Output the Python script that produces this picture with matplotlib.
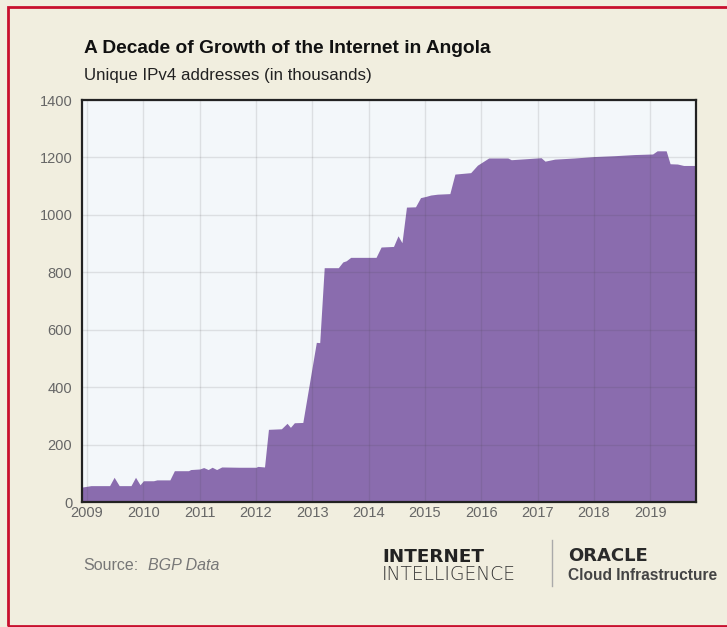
import matplotlib.pyplot as plt
from matplotlib.patches import Rectangle
from matplotlib.lines import Line2D

# Unique IPv4 addresses in Angola (thousands)
years = [2008.91, 2009.07, 2009.40, 2009.48, 2009.57, 2009.78, 2009.86, 2009.94, 2010.00, 2010.18,
         2010.24, 2010.47, 2010.55, 2010.80, 2010.84, 2011.00, 2011.07, 2011.15, 2011.22, 2011.30,
         2011.39, 2011.70, 2012.00, 2012.03, 2012.15, 2012.22, 2012.45, 2012.55, 2012.61, 2012.68,
         2012.83, 2013.07, 2013.13, 2013.21, 2013.46, 2013.54, 2013.60, 2013.68, 2014.13, 2014.22,
         2014.44, 2014.52, 2014.59, 2014.67, 2014.83, 2014.92, 2015.01, 2015.10, 2015.22, 2015.44,
         2015.53, 2015.81, 2015.93, 2016.13, 2016.47, 2016.53, 2017.06, 2017.13, 2017.30, 2017.65,
         2018.00, 2018.36, 2018.72, 2019.04, 2019.12, 2019.28, 2019.35, 2019.48, 2019.59, 2019.81]
addresses = [52, 57, 57, 86, 57, 57, 86, 60, 74, 74,
             77, 77, 109, 109, 113, 115, 120, 113, 121, 113,
             122, 121, 121, 124, 122, 253, 255, 274, 260, 276,
             277, 556, 555, 816, 816, 836, 840, 852, 852, 888,
             890, 927, 903, 1027, 1028, 1060, 1064, 1069, 1072, 1074,
             1142, 1147, 1173, 1198, 1198, 1192, 1199, 1187, 1194, 1198,
             1203, 1206, 1210, 1212, 1223, 1223, 1178, 1177, 1172, 1172]
year_ticks = list(range(2009, 2020))
value_ticks = list(range(0, 1401, 200))

title = "A Decade of Growth of the Internet in Angola"
subtitle = "Unique IPv4 addresses (in thousands)"

bg = "#f1eedf"
purple = "#8a6cae"
W, H = 727, 627

plt.rcParams['font.family'] = ['Liberation Sans', 'DejaVu Sans']

fig = plt.figure(figsize=(W / 100, H / 100), dpi=100, facecolor=bg)

def fx(px):
    return px / W

def fy(py):
    return 1 - py / H

# red frame around the card
fig.patches.append(Rectangle((fx(8), fy(626)), fx(740) - fx(8), fy(7) - fy(626),
                             transform=fig.transFigure, fill=False,
                             edgecolor="#c8102e", linewidth=2, zorder=10))

ax = fig.add_axes([fx(82), fy(502), fx(696) - fx(82), fy(100) - fy(502)])
ax.set_facecolor("#f3f7fa")
ax.fill_between(years, addresses, 0, color=purple, linewidth=0, zorder=1)
ax.set_xlim(2008.91, 2019.81)
ax.set_ylim(0, 1400)
ax.set_xticks(year_ticks)
ax.set_xticklabels([str(y) for y in year_ticks])
ax.set_yticks(value_ticks)
ax.grid(True, color="#444444", alpha=0.13, linewidth=1, zorder=2)
ax.set_axisbelow(False)
ax.tick_params(length=0, labelsize=10.5, labelcolor="#666666")
ax.tick_params(axis='y', pad=7)
ax.tick_params(axis='x', pad=3)
for s in ax.spines.values():
    s.set_color("#222222")
    s.set_linewidth(1.6)
    s.set_zorder(5)

fig.text(fx(84), fy(53), title, fontsize=13.8, fontweight='bold', color="#111111",
         ha='left', va='baseline')
fig.text(fx(84), fy(80), subtitle, fontsize=12.2, color="#222222",
         ha='left', va='baseline')

# footer
fig.text(fx(83), fy(570), "Source:", fontsize=11.5, color="#777777", ha='left', va='baseline')
fig.text(fx(148), fy(570), "BGP Data", fontsize=11.5, color="#777777", style='italic',
         ha='left', va='baseline')
fig.text(fx(382), fy(562), "INTERNET", fontsize=13.2, fontweight='bold', color="#222222",
         family='DejaVu Sans', ha='left', va='baseline')
fig.text(fx(382), fy(580), "INTELLIGENCE", fontsize=13.5, fontweight='light', color="#333333",
         family='DejaVu Sans', ha='left', va='baseline')
fig.add_artist(Line2D([fx(552), fx(552)], [fy(540), fy(586)], color="#aaaaaa",
                      linewidth=1, transform=fig.transFigure))
fig.text(fx(568), fy(561), "ORACLE", fontsize=13, fontweight='bold', color="#2a2a2a",
         family='DejaVu Sans', ha='left', va='baseline')
fig.text(fx(568), fy(580), "Cloud Infrastructure", fontsize=11.2, fontweight='bold',
         color="#444444", ha='left', va='baseline')

fig.savefig("out.png", dpi=100, facecolor=bg)
